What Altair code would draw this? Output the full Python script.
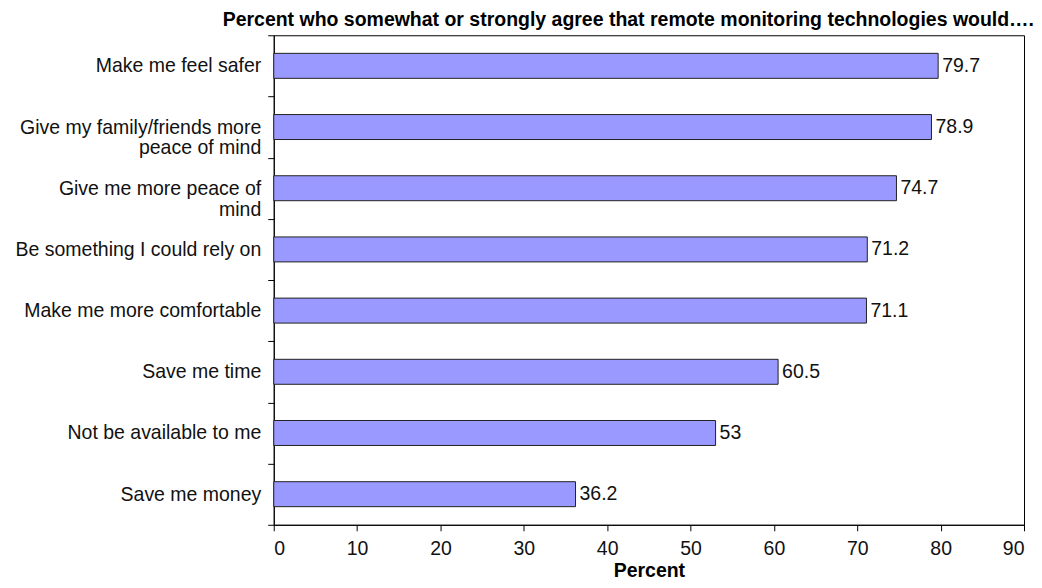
import altair as alt
import pandas as pd

categories = [
    "Make me feel safer",
    "Give my family/friends more|peace of mind",
    "Give me more peace of|mind",
    "Be something I could rely on",
    "Make me more comfortable",
    "Save me time",
    "Not be available to me",
    "Save me money",
]
values = [79.7, 78.9, 74.7, 71.2, 71.1, 60.5, 53, 36.2]
value_labels = ["79.7", "78.9", "74.7", "71.2", "71.1", "60.5", "53", "36.2"]
x_ticks = [0, 10, 20, 30, 40, 50, 60, 70, 80, 90]

# trailing no-break spaces so that the second line of a wrapped
# label looks centred under the first (labels are right aligned)
second_line_pad = {1: 11, 2: 15}
display = [
    c + "\u00a0" * second_line_pad.get(i, 0) for i, c in enumerate(categories)
]

df = pd.DataFrame({"cat": display, "val": values, "lab": value_labels})

FONT = "Liberation Sans"
FS = 19.5

y_enc = alt.Y(
    "cat:N",
    sort=display,
    scale=alt.Scale(paddingInner=0, paddingOuter=0),
    axis=alt.Axis(
        title=None,
        labelExpr="split(datum.label, '|')",
        labelBaseline="middle",
        tickBand="extent",
        tickSize=6,
        labelPadding=7,
        labelFont=FONT,
        labelFontSize=FS,
        labelColor="#111",
        labelLineHeight=21,
        labelLimit=400,
        domainColor="#000",
        tickColor="#000",
    ),
)

x_enc = alt.X(
    "val:Q",
    scale=alt.Scale(domain=[0, 90], nice=False),
    axis=alt.Axis(
        title="Percent",
        values=x_ticks,
        grid=False,
        tickSize=6,
        labelPadding=9,
        labelFont=FONT,
        labelFontSize=FS,
        labelColor="#111",
        titleFont=FONT,
        titleFontSize=FS,
        titleFontWeight="bold",
        titleColor="#000",
        titlePadding=3,
        domainColor="#000",
        tickColor="#000",
    ),
)

bars = alt.Chart(df).mark_bar(
    color="#9999FF", stroke="#222", strokeWidth=1, height=25
).encode(x=x_enc, y=y_enc)

texts = alt.Chart(df).mark_text(
    align="left", baseline="middle", dx=4, font=FONT, fontSize=FS, color="#111"
).encode(x="val:Q", y=alt.Y("cat:N", sort=display), text="lab:N")

chart = (
    alt.layer(bars, texts)
    .properties(
        width=751,
        height=490,
        title=alt.TitleParams(
            "Percent who somewhat or strongly agree that remote monitoring technologies would….",
            anchor="end",
            frame="group",
            font=FONT,
            fontSize=19.5,
            fontWeight="bold",
            color="#000",
            dx=10,
            dy=13,
            offset=8,
        ),
        padding={"left": 266, "top": 27, "right": 10, "bottom": 54},
        autosize=alt.AutoSizeParams(type="none"),
    )
    .configure_view(stroke="#000", strokeWidth=1)
)

chart.save("out.html", embed_options={"renderer": "svg", "actions": False})
